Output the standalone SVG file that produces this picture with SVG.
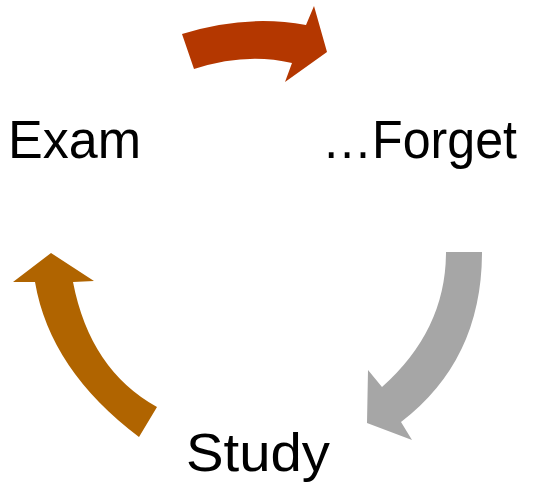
<svg xmlns="http://www.w3.org/2000/svg" width="544" height="483" viewBox="0 0 544 483">
<style>
.lbl{font-family:"Liberation Sans",Arial,sans-serif;font-size:54px;fill:#000}
</style>
<rect width="544" height="483" fill="#fff"/>
<g id="connectors">
<path id="arrow-exam-forget" fill="#B43700" d="M182,34 Q246,14 306,25 L314,6 L327,52 L285,82 L292,63 Q246,52 194,69 Z"/>
<path id="arrow-forget-study" fill="#A6A6A6" d="M446,252 L482,252 Q482,360 401,422 L412,440 L367,423 L368,370 L382,387 Q446,330 446,252 Z"/>
<path id="arrow-study-exam" fill="#B06400" d="M139,437 Q50,370 35,282 L13,282 L51,253 L94,281 L73,282 Q90,370 157,407 Z"/>
</g>
<g id="node-exam"><text class="lbl" x="8" y="158" textLength="133" lengthAdjust="spacingAndGlyphs">Exam</text></g>
<g id="node-forget"><text class="lbl" x="322" y="158" textLength="195" lengthAdjust="spacingAndGlyphs">…Forget</text></g>
<g id="node-study"><text class="lbl" x="186" y="471" textLength="144" lengthAdjust="spacingAndGlyphs">Study</text></g>
</svg>
